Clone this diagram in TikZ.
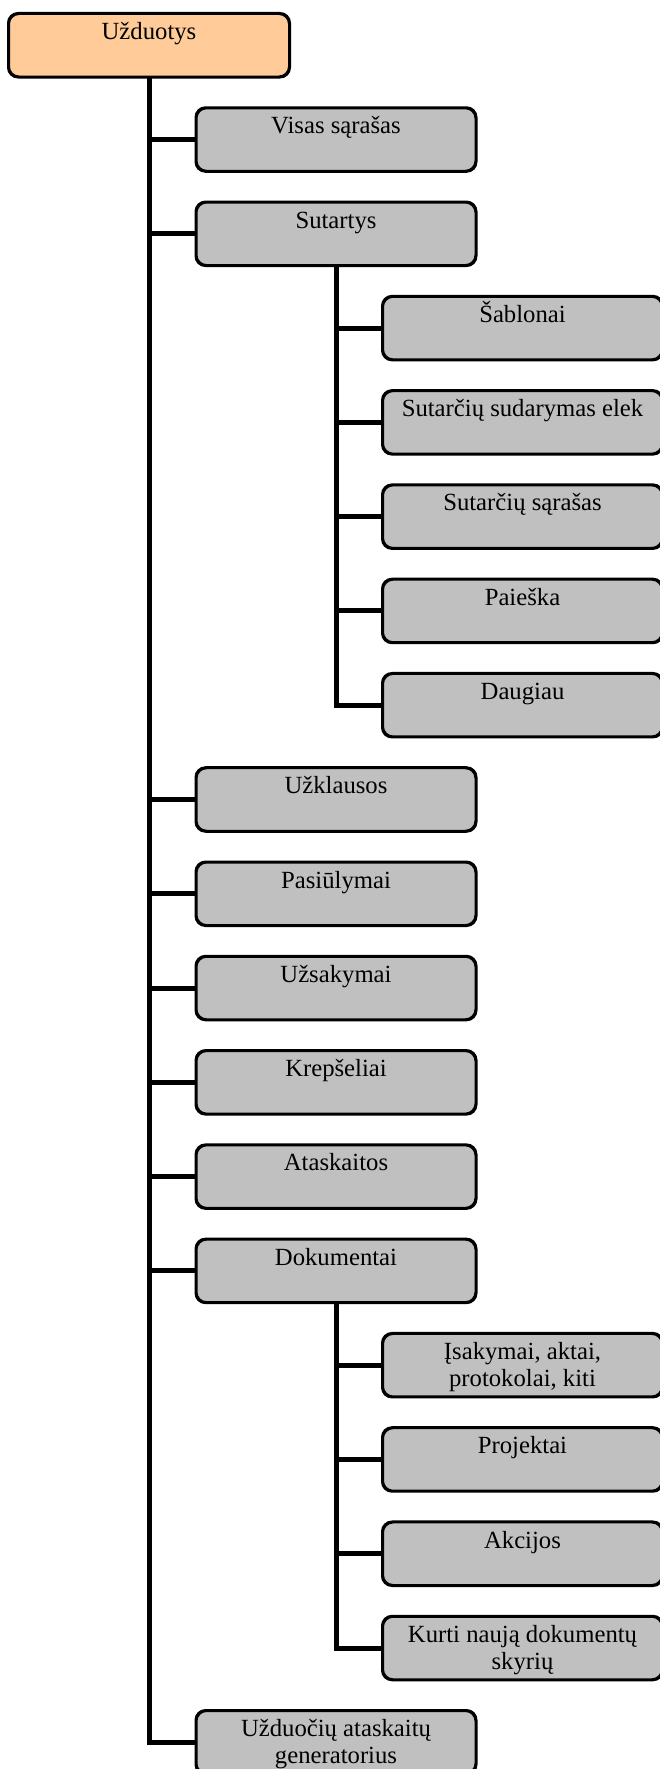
\documentclass[tikz,border=0pt]{standalone}
\usepackage{fontspec}
\setmainfont{Liberation Serif}
\definecolor{rootfill}{HTML}{FFCC99}
\definecolor{itemfill}{HTML}{C0C0C0}
\newcommand\boxfont{\fontsize{24.7}{27}\selectfont}
% caption of a box: first baseline a fixed distance below the box top;
% the optional argument is the number of extra lines (base anchor sits on the last line)
\newcommand\boxtext[3][0]{\path (#2.north) ++(0,{26.5+27*#1}) node[lbl] (#2-t) {#3};}
\begin{document}
\begin{tikzpicture}[x=1pt,y=-1pt,
  box/.style={draw=black, line width=2pt, rounded corners=10pt, fill=itemfill,
    minimum width=279pt, minimum height=62.5pt, inner sep=0pt, anchor=north west},
  rootbox/.style={box, fill=rootfill, minimum width=280pt},
  lbl/.style={anchor=base, inner sep=0pt, align=center, font=\boxfont},
  link/.style={line width=5pt, line join=miter}]
\useasboundingbox (0,0) rectangle (660,1769);
\clip (0,0) rectangle (660,1769);

% root
\node[rootbox] (r) at (8,13) {};
% first level
\node[box] (a1)  at (195.5,107.28)  {};
\node[box] (a2)  at (195.5,201.56)  {};
\node[box] (a8)  at (195.5,767.24)  {};
\node[box] (a9)  at (195.5,861.52)  {};
\node[box] (a10) at (195.5,955.80)  {};
\node[box] (a11) at (195.5,1050.08) {};
\node[box] (a12) at (195.5,1144.36) {};
\node[box] (a13) at (195.5,1238.64) {};
\node[box] (a18) at (195.5,1710.04) {};
% under "Sutartys"
\node[box] (b3) at (382,295.84) {};
\node[box] (b4) at (382,390.12) {};
\node[box] (b5) at (382,484.40) {};
\node[box] (b6) at (382,578.68) {};
\node[box] (b7) at (382,672.96) {};
% under "Dokumentai"
\node[box] (c14) at (382,1332.92) {};
\node[box] (c15) at (382,1427.20) {};
\node[box] (c16) at (382,1521.48) {};
\node[box] (c17) at (382,1615.76) {};

% connectors
\begin{scope}[link]
  \draw (r.south) |- (a18.west);
  \foreach \n in {a1,a2,a8,a9,a10,a11,a12,a13}
    \draw (\n.west) -- (\n.west -| r.south);
  \draw (a2.south) |- (b7.west);
  \foreach \n in {b3,b4,b5,b6}
    \draw (\n.west) -- (\n.west -| a2.south);
  \draw (a13.south) |- (c17.west);
  \foreach \n in {c14,c15,c16}
    \draw (\n.west) -- (\n.west -| a13.south);
\end{scope}

% redraw borders over connector ends
\foreach \n in {r,a1,a2,a8,a9,a10,a11,a12,a13,a18,b3,b4,b5,b6,b7,c14,c15,c16,c17}
  \draw[line width=2pt, rounded corners=10pt] (\n.north west) rectangle (\n.south east);

% captions
\boxtext{r}{Užduotys}
\boxtext{a1}{Visas sąrašas}
\boxtext{a2}{Sutartys}
\boxtext{b3}{Šablonai}
\boxtext{b4}{Sutarčių sudarymas elek}
\boxtext{b5}{Sutarčių sąrašas}
\boxtext{b6}{Paieška}
\boxtext{b7}{Daugiau}
\boxtext{a8}{Užklausos}
\boxtext{a9}{Pasiūlymai}
\boxtext{a10}{Užsakymai}
\boxtext{a11}{Krepšeliai}
\boxtext{a12}{Ataskaitos}
\boxtext{a13}{Dokumentai}
\boxtext[1]{c14}{Įsakymai, aktai,\\protokolai, kiti}
\boxtext{c15}{Projektai}
\boxtext{c16}{Akcijos}
\boxtext[1]{c17}{Kurti naują dokumentų\\skyrių}
\boxtext[1]{a18}{Užduočių ataskaitų\\generatorius}
\end{tikzpicture}
\end{document}
